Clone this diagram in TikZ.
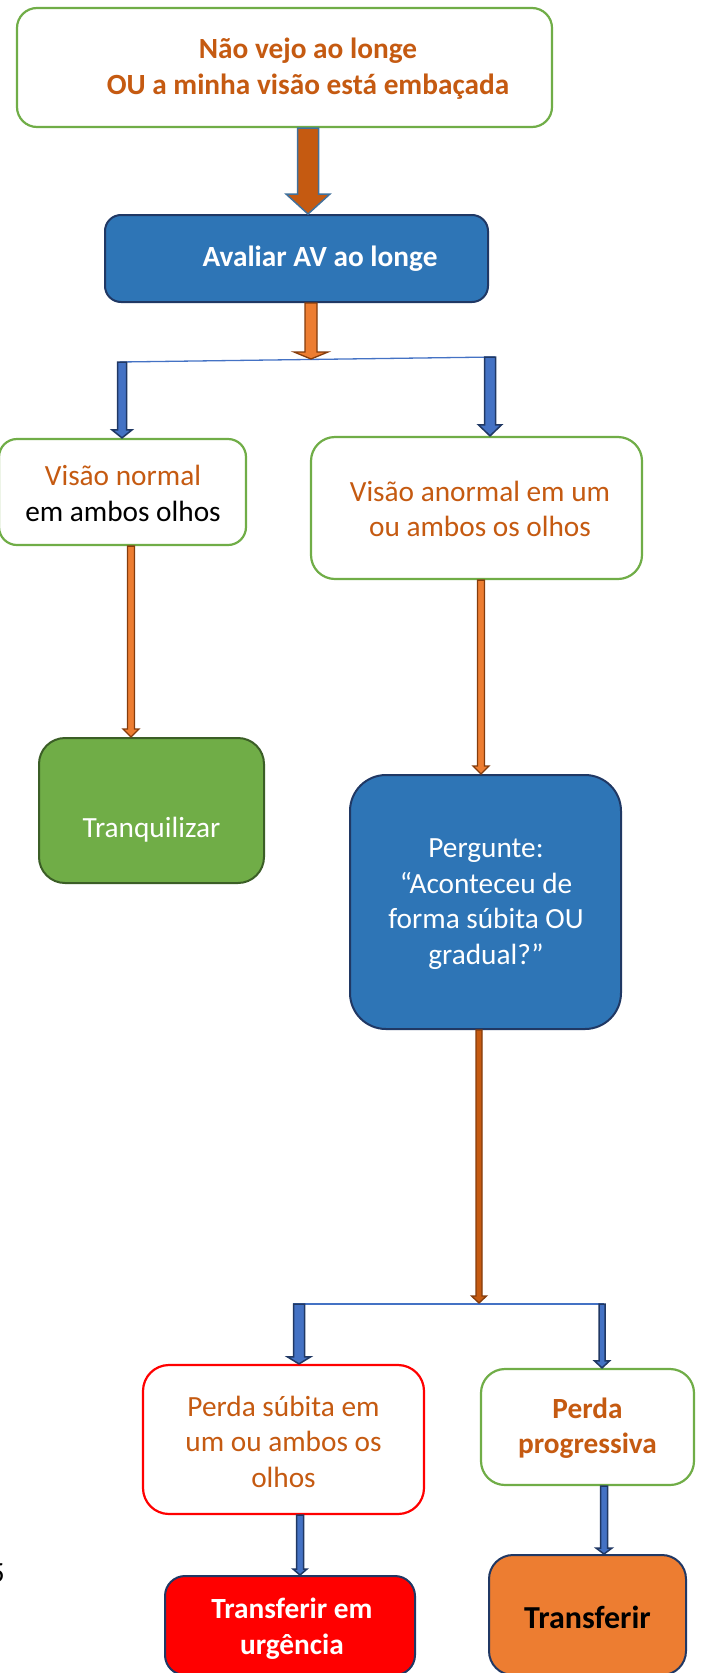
\documentclass[tikz,border=0pt]{standalone}
\usepackage{fontspec}
\setmainfont{Carlito}
\usetikzlibrary{calc}
\definecolor{ctext}{HTML}{C55A11}
\definecolor{cgreen}{HTML}{70AD47}
\definecolor{cdkgreen}{HTML}{3B5E26}
\definecolor{cblue}{HTML}{2E75B6}
\definecolor{cnavy}{HTML}{203864}
\definecolor{carrowblue}{HTML}{4472C4}
\definecolor{coutblue}{HTML}{41719C}
\definecolor{corange}{HTML}{ED7D31}
\definecolor{cbrown}{HTML}{843C0C}
\definecolor{cred}{HTML}{FF0000}
% #1 start, #2 tip, #3 half shaft, #4 half head, #5 head length, #6 style
\newcommand\blockarrow[6]{%
  \path[#6] let \p1=(#1), \p2=(#2) in
    (\x1-#3pt,\y1) -- (\x1+#3pt,\y1) -- (\x1+#3pt,\y2+#5pt) -- (\x1+#4pt,\y2+#5pt)
    -- (\x1,\y2) -- (\x1-#4pt,\y2+#5pt) -- (\x1-#3pt,\y2+#5pt) -- cycle;}
\begin{document}
\begin{tikzpicture}[x=1pt,y=-1pt,
  txt/.style={font=\fontsize{29.3pt}{35.5pt}\selectfont, align=center, inner sep=0pt},
  btxt/.style={font=\fontsize{29.3pt}{35.5pt}\selectfont\bfseries, align=center, inner sep=0pt},
  gbox/.style={draw=cgreen, fill=white, line width=2.2pt, inner sep=0pt},
  rbox/.style={draw=cred, fill=white, line width=2.2pt, inner sep=0pt},
  fbox/.style={draw=cnavy, line width=2pt, inner sep=0pt},
  bigarrow/.style={fill=ctext, draw=coutblue, line width=1.5pt, line join=miter},
  orarrow/.style={fill=corange, draw=cbrown, line width=1.3pt},
  dkarrow/.style={fill=ctext, draw=cbrown, line width=1.3pt},
  blarrow/.style={fill=carrowblue, draw=cnavy, line width=1.5pt},
  split/.style={draw=carrowblue, line width=1.3pt}]
\useasboundingbox (0,0) rectangle (705,1673);
\clip (0,0) rectangle (705,1673);

% boxes
\node[gbox, rounded corners=20pt, minimum width=535pt, minimum height=119pt] (top) at (284.5,67.5) {};
\node[fbox, fill=cblue, rounded corners=16pt, minimum width=383pt, minimum height=87pt] (aval) at (296.5,258.5) {};
\node[gbox, rounded corners=18pt, minimum width=247pt, minimum height=106pt] (vn) at (122.5,492) {};
\node[gbox, rounded corners=24pt, minimum width=331pt, minimum height=142pt] (va) at (476.5,508) {};
\node[fbox, draw=cdkgreen, fill=cgreen, rounded corners=26pt, minimum width=225pt, minimum height=145pt] (tranq) at (151.5,810.5) {};
\node[fbox, fill=cblue, rounded corners=36pt, minimum width=271pt, minimum height=254pt] (perg) at (485.5,902) {};
\node[rbox, rounded corners=26pt, minimum width=281pt, minimum height=149pt] (ps) at (283.5,1439.5) {};
\node[gbox, rounded corners=24pt, minimum width=213pt, minimum height=116pt] (pp) at (587.5,1427) {};
\node[fbox, fill=cred, rounded corners=20pt, minimum width=250pt, minimum height=99pt] (urg) at (290,1625.5) {};
\node[fbox, fill=corange, rounded corners=24pt, minimum width=197pt, minimum height=120pt] (tr) at (587.5,1615) {};

% texts
\node[btxt, text=ctext] (toptxt) at (308,68.5) {Não vejo ao longe\\OU a minha visão está embaçada};
\node[btxt, text=white] (avaltxt) at (320,259) {Avaliar AV ao longe};
\node[txt, text=black] (vntxt) at (123,493.5) {\textcolor{ctext}{Visão normal}\\em ambos olhos};
\node[txt, text=ctext] (vatxt) at (480,509) {Visão anormal em um\\ou ambos os olhos};
\node[txt, text=white] (tranqtxt) at (151.5,830) {Tranquilizar};
\node[txt, text=white] (pergtxt) at (486,904) {Pergunte:\\“Aconteceu de\\forma súbita OU\\gradual?”};
\node[txt, text=ctext] (pstxt) at (283.5,1441.5) {Perda súbita em\\um ou ambos os\\olhos};
\node[btxt, text=ctext] (pptxt) at (587.5,1428) {Perda\\progressiva};
\node[btxt, text=white] (urgtxt) at (292,1628.5) {Transferir em\\urgência};
\node[text=black, inner sep=0pt, font=\fontsize{32pt}{38pt}\selectfont\bfseries] (trtxt) at (587.5,1617) {Transferir};
\node[txt, text=black, anchor=base east] (pg) at (5,1582) {5};

% connector coordinates
\coordinate (ax1) at (308,0);
\coordinate (ax2) at (311,0);
\coordinate (j1) at (311,359);
\coordinate (s1l) at (120,362);
\coordinate (s1r) at (495,357);
\coordinate (b1) at (122,362);
\coordinate (b2) at (490,357);
\coordinate (ax5) at (131,0);
\coordinate (ax6) at (481,0);
\coordinate (ax7) at (479,0);
\coordinate (j2) at (479,1303);
\coordinate (s2l) at (293,1304);
\coordinate (s2r) at (604,1304);
\coordinate (b3) at (299,1304);
\coordinate (b4) at (602,1304);
\coordinate (ax10) at (300,0);
\coordinate (ax11) at (604,0);

% connectors
\draw[split] (s1l) -- (s1r);
\draw[split] (s2l) -- (s2r);
\blockarrow{top.south -| ax1}{aval.north -| ax1}{10.5}{22}{20}{bigarrow}
\blockarrow{aval.south -| ax2}{j1}{6}{17}{7}{orarrow}
\blockarrow{b1}{vn.north -| b1}{4.5}{10}{8}{blarrow}
\blockarrow{b2}{va.north -| b2}{5.5}{11.5}{11}{blarrow}
\blockarrow{vn.south -| ax5}{tranq.north -| ax5}{3.5}{8}{8}{orarrow}
\blockarrow{va.south -| ax6}{perg.north -| ax6}{3.5}{8}{8}{orarrow}
\blockarrow{perg.south -| ax7}{j2}{3}{7.5}{7}{dkarrow}
\blockarrow{b3}{ps.north -| b3}{5.5}{11.5}{7}{blarrow}
\blockarrow{b4}{pp.north -| b4}{3}{7.5}{7}{blarrow}
\blockarrow{ps.south -| ax10}{urg.north -| ax10}{3.5}{7}{6}{blarrow}
\blockarrow{pp.south -| ax11}{tr.north -| ax11}{3.5}{8}{6}{blarrow}
\end{tikzpicture}
\end{document}
